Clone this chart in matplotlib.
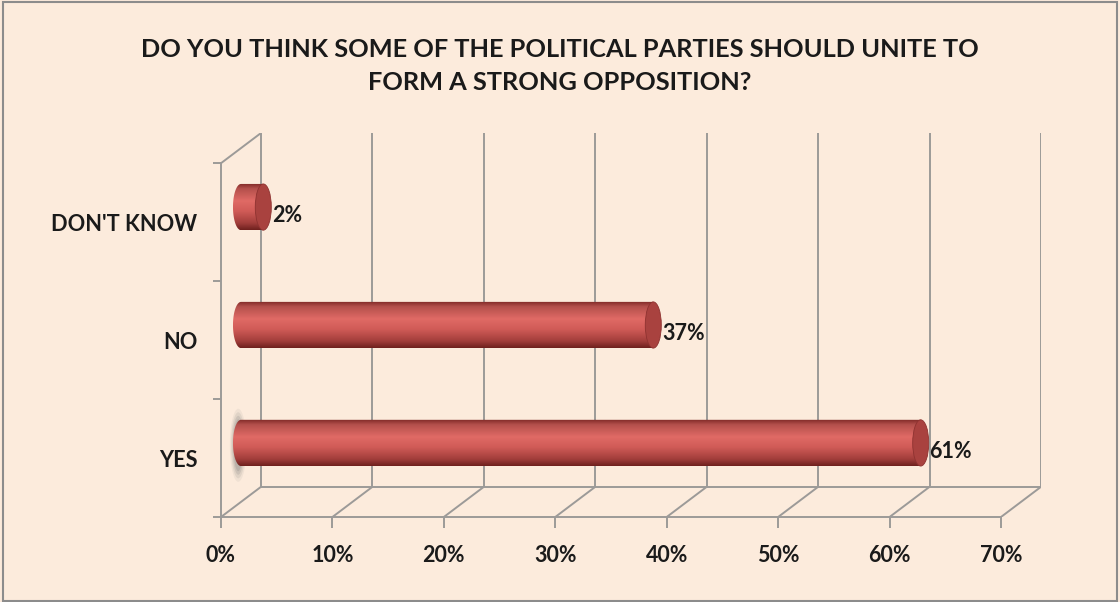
import numpy as np
import matplotlib
matplotlib.use("Agg")
import matplotlib.pyplot as plt
from matplotlib.path import Path
from matplotlib.patches import PathPatch, Ellipse, Rectangle
from matplotlib.colors import LinearSegmentedColormap

# ── Data ──────────────────────────────────────────────────────────────────────
categories = ["YES", "NO", "DON'T KNOW"]
values = [61, 37, 2]
value_labels = ["61%", "37%", "2%"]
xticks = [0, 10, 20, 30, 40, 50, 60, 70]
xtick_labels = ["0%", "10%", "20%", "30%", "40%", "50%", "60%", "70%"]
title = "DO YOU THINK SOME OF THE POLITICAL PARTIES SHOULD UNITE TO\nFORM A STRONG OPPOSITION?"

# ── Style ─────────────────────────────────────────────────────────────────────
BG = "#fcebdc"
GRID = "#9c9a98"
FG = "#1a1a1a"
FONT = "Lato"

XMAX = 70
DX = 3.59      # depth offset in x (percent units)
DY = 0.256     # depth offset in y (category units)
HALF_H = 0.196  # cylinder half-height
CAP_A = 0.72    # end-cap ellipse half-width

fig = plt.figure(figsize=(11.2, 6.02), dpi=100, facecolor=BG)
fig.add_artist(Rectangle((0.003, 0.002), 0.994, 0.994, transform=fig.transFigure,
                         fill=False, edgecolor="#8c8c8c", lw=1.5))

fig.text(0.5, 0.89, title, ha="center", va="center", fontsize=18.3,
         fontweight="bold", family=FONT, color=FG, linespacing=1.55)

left, right = 221 / 1120, 1041 / 1120
bottom, top = (602 - 517) / 602, (602 - 133) / 602
ax = fig.add_axes([left, bottom, right - left, top - bottom])
ax.set_facecolor("none")
ax.set_xlim(0, XMAX + DX)
ax.set_ylim(0, len(categories) + DY)

# ── 3D frame ──────────────────────────────────────────────────────────────────
ncat = len(categories)
lkw = dict(color=GRID, lw=1.4, solid_capstyle="butt", zorder=1)
for t in xticks:
    ax.plot([t, t + DX], [0, DY], **lkw)                   # floor diagonals
    ax.plot([t + DX, t + DX], [DY, ncat + DY], **lkw)      # back wall
ax.plot([DX, XMAX + DX], [DY, DY], **lkw)                  # floor back edge
ax.plot([0, DX], [ncat, ncat + DY], **lkw)                 # left wall top

for s in ["top", "right"]:
    ax.spines[s].set_visible(False)
ax.spines["bottom"].set_bounds(0, XMAX)
ax.spines["left"].set_bounds(0, ncat)
for s in ["bottom", "left"]:
    ax.spines[s].set_color(GRID)
    ax.spines[s].set_linewidth(1.4)

ax.set_xticks(xticks)
ax.set_xticklabels(xtick_labels, fontsize=15.5, fontweight="bold", family=FONT, color=FG)
ax.tick_params(axis="x", direction="out", length=8, width=1.4, color=GRID, pad=12)

ax.set_yticks(range(ncat + 1))
ax.set_yticklabels([])
ax.set_yticks([i + 0.5 for i in range(ncat)], minor=True)
ax.set_yticklabels(categories, minor=True, fontsize=15.7, fontweight="bold",
                   family=FONT, color=FG)
ax.tick_params(axis="y", which="major", direction="out", length=6, width=1.4, color=GRID)
ax.tick_params(axis="y", which="minor", length=0, pad=17)

# ── Cylinders ─────────────────────────────────────────────────────────────────
cmap = LinearSegmentedColormap.from_list(
    "cyl", [(0.0, "#7d2724"), (0.12, "#b4504c"), (0.38, "#e06a65"),
            (0.6, "#d05b57"), (0.85, "#a23e3b"), (1.0, "#6e201e")])
grad = np.linspace(0, 1, 256).reshape(-1, 1)

for i, (v, lab) in enumerate(zip(values, value_labels)):
    yc = i + 0.5 + DY / 2
    xs = DX / 2
    xe = v + DX / 2
    th = np.linspace(np.pi / 2, 3 * np.pi / 2, 40)
    pts = [(xs + CAP_A * np.cos(t), yc + HALF_H * np.sin(t)) for t in th]
    pts += [(xe, yc - HALF_H), (xe, yc + HALF_H), pts[0]]
    body = PathPatch(Path(pts, closed=True), facecolor="none", edgecolor="none")
    ax.add_patch(body)

    if i == 0:
        # soft grey halo at the start of the first bar
        for k, a in enumerate([0.08, 0.12, 0.16, 0.2]):
            ax.add_patch(Ellipse((xs - 0.25, yc - 0.02), 1.5 - k * 0.22,
                                 0.62 - k * 0.06, facecolor="#6f6f6f",
                                 edgecolor="none", alpha=a, zorder=2))

    im = ax.imshow(grad, cmap=cmap, aspect="auto", origin="upper",
                   extent=[xs - CAP_A, xe + CAP_A, yc - HALF_H, yc + HALF_H],
                   zorder=3)
    im.set_clip_path(body)

    ax.add_patch(Ellipse((xe, yc), 2 * CAP_A, 2 * HALF_H, facecolor="#a9423f",
                         edgecolor="#8e3230", lw=0.6, zorder=4))

    ax.text(xe + CAP_A + 0.05, yc - 0.07, lab, ha="left", va="center",
            fontsize=15.5, fontweight="bold", family=FONT, color=FG, zorder=5)

ax.set_xlim(0, XMAX + DX)
ax.set_ylim(0, ncat + DY)

plt.savefig("out.png", dpi=100, facecolor=BG)
